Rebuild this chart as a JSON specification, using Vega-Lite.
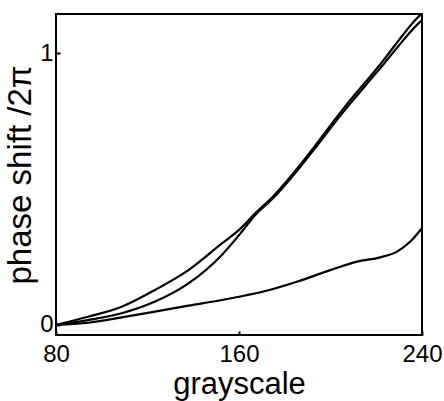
{
  "$schema": "https://vega.github.io/schema/vega-lite/v6.json",
  "width": 366,
  "height": 321,
  "autosize": {"type": "none"},
  "padding": {"left": 56, "top": 14, "right": 22, "bottom": 66},
  "background": "white",
  "config": {
    "view": {"stroke": "black", "strokeWidth": 2},
    "font": "Liberation Sans"
  },
  "data": {
    "values": [
      {"s": "A", "g": 80, "p": 0}, {"s": "A", "g": 94, "p": 0.03}, {"s": "A", "g": 108.7, "p": 0.067}, {"s": "A", "g": 123.3, "p": 0.129}, {"s": "A", "g": 137.9, "p": 0.202}, {"s": "A", "g": 152.5, "p": 0.3}, {"s": "A", "g": 160, "p": 0.35}, {"s": "A", "g": 167.1, "p": 0.411}, {"s": "A", "g": 175.1, "p": 0.475}, {"s": "A", "g": 186.8, "p": 0.59}, {"s": "A", "g": 194.1, "p": 0.669}, {"s": "A", "g": 201.4, "p": 0.75}, {"s": "A", "g": 208.6, "p": 0.828}, {"s": "A", "g": 215.9, "p": 0.9}, {"s": "A", "g": 223.2, "p": 0.975}, {"s": "A", "g": 230, "p": 1.05}, {"s": "A", "g": 237.8, "p": 1.129}, {"s": "A", "g": 240, "p": 1.147},
      {"s": "B", "g": 80, "p": 0}, {"s": "B", "g": 94, "p": 0.018}, {"s": "B", "g": 108.7, "p": 0.043}, {"s": "B", "g": 123.3, "p": 0.086}, {"s": "B", "g": 137.9, "p": 0.153}, {"s": "B", "g": 152.5, "p": 0.258}, {"s": "B", "g": 161.2, "p": 0.343}, {"s": "B", "g": 167.1, "p": 0.405}, {"s": "B", "g": 175.1, "p": 0.468}, {"s": "B", "g": 186.8, "p": 0.582}, {"s": "B", "g": 194.1, "p": 0.66}, {"s": "B", "g": 201.4, "p": 0.74}, {"s": "B", "g": 208.6, "p": 0.815}, {"s": "B", "g": 215.9, "p": 0.888}, {"s": "B", "g": 223.2, "p": 0.96}, {"s": "B", "g": 230, "p": 1.03}, {"s": "B", "g": 237.8, "p": 1.105}, {"s": "B", "g": 240, "p": 1.122},
      {"s": "C", "g": 80, "p": 0}, {"s": "C", "g": 94.1, "p": 0.008}, {"s": "C", "g": 108.7, "p": 0.028}, {"s": "C", "g": 123.3, "p": 0.049}, {"s": "C", "g": 137.9, "p": 0.071}, {"s": "C", "g": 152.5, "p": 0.092}, {"s": "C", "g": 160, "p": 0.104}, {"s": "C", "g": 170.7, "p": 0.123}, {"s": "C", "g": 185.3, "p": 0.159}, {"s": "C", "g": 199.9, "p": 0.202}, {"s": "C", "g": 211.6, "p": 0.233}, {"s": "C", "g": 221.8, "p": 0.249}, {"s": "C", "g": 229.1, "p": 0.27}, {"s": "C", "g": 234.9, "p": 0.307}, {"s": "C", "g": 240, "p": 0.356}
    ]
  },
  "mark": {"type": "line", "interpolate": "monotone", "strokeWidth": 2.2, "clip": true},
  "encoding": {
    "x": {
      "field": "g", "type": "quantitative",
      "scale": {"domain": [80, 240], "nice": false, "zero": false},
      "axis": {"title": "grayscale", "values": [80, 160, 240], "format": "d", "grid": false, "domain": false, "ticks": true, "tickSize": -4, "tickColor": "black", "tickWidth": 2, "labelFontSize": 24, "labelColor": "black", "labelPadding": 11, "labelFlush": false, "titleFontSize": 31, "titleFontWeight": "normal", "titleColor": "black", "titlePadding": 3}
    },
    "y": {
      "field": "p", "type": "quantitative",
      "scale": {"domain": [-0.037, 1.145], "nice": false, "zero": false},
      "axis": {"title": "phase shift /2π", "values": [0, 1], "format": "d", "grid": false, "domain": false, "ticks": true, "tickSize": -4, "tickColor": "black", "tickWidth": 2, "labelFontSize": 24, "labelColor": "black", "labelPadding": 7, "titleFontSize": 33, "titleFontWeight": "normal", "titleColor": "black", "titlePadding": 2}
    },
    "detail": {"field": "s", "type": "nominal"},
    "color": {"value": "black"}
  }
}
